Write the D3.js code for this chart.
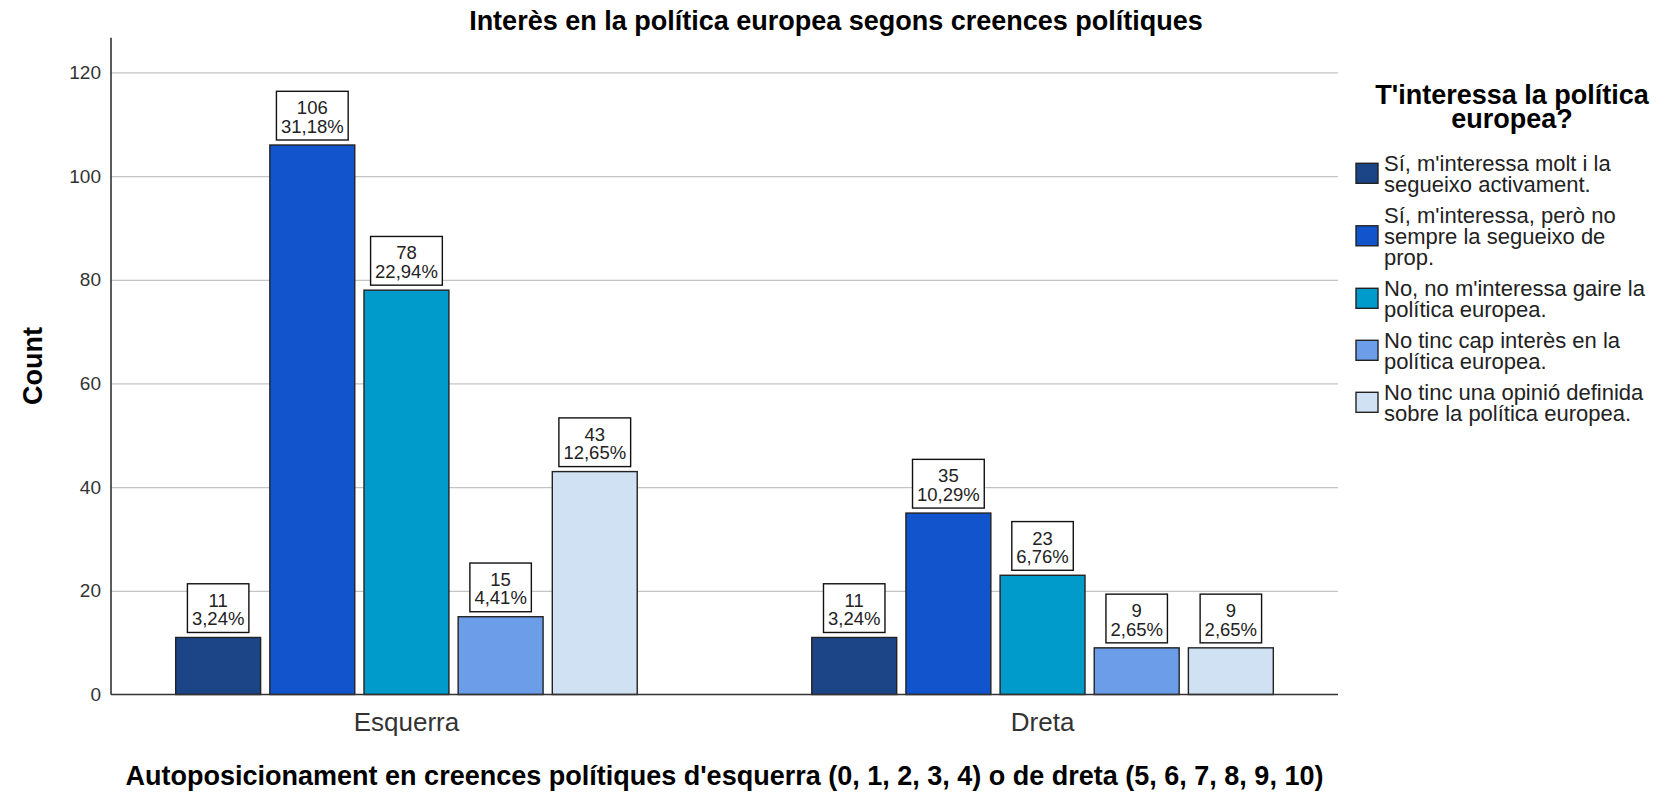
<!DOCTYPE html>
<html><head><meta charset="utf-8">
<script src="https://cdn.jsdelivr.net/npm/d3@7"></script>
<style>
body{margin:0;background:#fff}
svg{display:block}
text{font-family:"Liberation Sans",Arial,Helvetica,sans-serif}
</style>
</head><body>
<svg id="chart" width="1668" height="793"></svg>
<script>
// ---- data ----
const groups = ["Esquerra", "Dreta"];
const seriesLabels = [
  ["Sí, m'interessa molt i la", "segueixo activament."],
  ["Sí, m'interessa, però no", "sempre la segueixo de", "prop."],
  ["No, no m'interessa gaire la", "política europea."],
  ["No tinc cap interès en la", "política europea."],
  ["No tinc una opinió definida", "sobre la política europea."]
];
const seriesColors = ["#1c4587", "#1254cb", "#009bcb", "#6c9de9", "#cfe1f3"];
const valuesEsquerra = [11, 106, 78, 15, 43];
const valuesDreta = [11, 35, 23, 9, 9];
const pctEsquerra = ["3,24%", "31,18%", "22,94%", "4,41%", "12,65%"];
const pctDreta = ["3,24%", "10,29%", "6,76%", "2,65%", "2,65%"];
const yTicks = [0, 20, 40, 60, 80, 100, 120];
const chartTitle = "Interès en la política europea segons creences polítiques";
const xTitle = "Autoposicionament en creences polítiques d'esquerra (0, 1, 2, 3, 4) o de dreta (5, 6, 7, 8, 9, 10)";
const yTitle = "Count";
const legendTitle = ["T'interessa la política", "europea?"];

const groupValues = [valuesEsquerra, valuesDreta];
const groupPcts = [pctEsquerra, pctDreta];
const rows = [];
groups.forEach((g, gi) => groupValues[gi].forEach((v, si) => rows.push({group: g, s: si, v: v, pct: groupPcts[gi][si]})));

// ---- layout ----
const W = 1668, H = 793;
const plotL = 111, plotR = 1338, plotT = 37.7, plotB = 694.5;
const yMax = 126.7;
const font = '"Liberation Sans",Arial,sans-serif';

const svg = d3.select("#chart");
svg.append("rect").attr("width", W).attr("height", H).attr("fill", "#fff");

const y = d3.scaleLinear().domain([0, yMax]).range([plotB, plotT]);
const x0 = d3.scaleBand().domain(groups).range([plotL, plotR]).paddingInner(0.2744).paddingOuter(0.1017);
const x1 = d3.scaleBand().domain(d3.range(seriesLabels.length)).range([0, x0.bandwidth()]).paddingInner(0.098);

// gridlines
const grid = svg.append("g").attr("transform", `translate(${plotL},0)`)
  .call(d3.axisLeft(y).tickValues(yTicks.filter(t => t > 0)).tickSize(-(plotR - plotL)).tickFormat(""));
grid.select(".domain").remove();
grid.selectAll("line").attr("stroke", "#c4c4c4").attr("stroke-width", 1.3);

// y tick labels
const yAx = svg.append("g").attr("transform", `translate(${plotL},0)`)
  .call(d3.axisLeft(y).tickValues(yTicks).tickSize(0).tickPadding(10));
yAx.select(".domain").remove();
yAx.selectAll("text").attr("font-family", font).attr("font-size", 19).attr("fill", "#333");

// bars
const bars = svg.append("g");
bars.selectAll("rect").data(rows).join("rect")
  .attr("x", d => x0(d.group) + x1(d.s))
  .attr("y", d => y(d.v))
  .attr("width", x1.bandwidth())
  .attr("height", d => y(0) - y(d.v))
  .attr("fill", d => seriesColors[d.s])
  .attr("stroke", "#222")
  .attr("stroke-width", 1.4);

// axis lines
svg.append("line").attr("x1", plotL).attr("x2", plotL).attr("y1", plotT).attr("y2", plotB)
  .attr("stroke", "#333").attr("stroke-width", 1.6);
svg.append("line").attr("x1", plotL).attr("x2", plotR).attr("y1", plotB).attr("y2", plotB)
  .attr("stroke", "#333").attr("stroke-width", 1.6);

// data labels
const labFont = 18.5, boxH = 48.7, boxGap = 5;
const labs = svg.append("g").selectAll("g").data(rows).join("g")
  .attr("transform", d => `translate(${x0(d.group) + x1(d.s) + x1.bandwidth() / 2},${y(d.v) - boxGap - boxH})`);
const box = labs.append("rect").attr("y", 0).attr("height", boxH)
  .attr("fill", "#fff").attr("stroke", "#111").attr("stroke-width", 1.4);
const t1 = labs.append("text").attr("text-anchor", "middle").attr("y", 23)
  .attr("font-size", labFont).attr("fill", "#222").text(d => d.v);
const t2 = labs.append("text").attr("text-anchor", "middle").attr("y", 41.4)
  .attr("font-size", labFont).attr("fill", "#222").text(d => d.pct);
labs.each(function () {
  const g = d3.select(this);
  const w = Math.max(g.select("text:nth-of-type(1)").node().getComputedTextLength(),
                     g.select("text:nth-of-type(2)").node().getComputedTextLength()) + 9;
  g.select("rect").attr("x", -w / 2).attr("width", w);
});

// category axis
const xAx = svg.append("g").attr("transform", `translate(0,${plotB})`)
  .call(d3.axisBottom(x0).tickSize(0).tickPadding(18));
xAx.select(".domain").remove();
xAx.selectAll("text").attr("font-family", font).attr("font-size", 26).attr("fill", "#333");

// titles
svg.append("text").attr("x", 836).attr("y", 30).attr("text-anchor", "middle")
  .attr("font-size", 27).attr("font-weight", "bold").attr("fill", "#000").text(chartTitle);
svg.append("text").attr("x", (plotL + plotR) / 2).attr("y", 785).attr("text-anchor", "middle")
  .attr("font-size", 27).attr("font-weight", "bold").attr("fill", "#000").text(xTitle);
svg.append("text").attr("transform", `translate(42,${(plotT + plotB) / 2}) rotate(-90)`).attr("text-anchor", "middle")
  .attr("font-size", 27).attr("font-weight", "bold").attr("fill", "#000").text(yTitle);

// legend
const lg = svg.append("g");
lg.selectAll("text.lt").data(legendTitle).join("text").attr("class", "lt")
  .attr("x", 1512).attr("y", (d, i) => 104 + i * 23.5).attr("text-anchor", "middle")
  .attr("font-size", 27).attr("font-weight", "bold").attr("fill", "#000").text(d => d);

const lineH = 21, itemGap = 10;
let cy = 162.8;
seriesLabels.forEach((lines, i) => {
  const first = cy;
  lines.forEach((ln, j) => {
    lg.append("text").attr("x", 1384).attr("y", first + j * lineH).attr("dy", "0.35em")
      .attr("font-size", 22).attr("fill", "#222").text(ln);
  });
  const center = first + (lines.length - 1) * lineH / 2;
  lg.append("rect").attr("x", 1356).attr("y", center - 10).attr("width", 22).attr("height", 20)
    .attr("fill", seriesColors[i]).attr("stroke", "#222").attr("stroke-width", 1.4);
  cy = first + lines.length * lineH + itemGap;
});
</script>
</body></html>
